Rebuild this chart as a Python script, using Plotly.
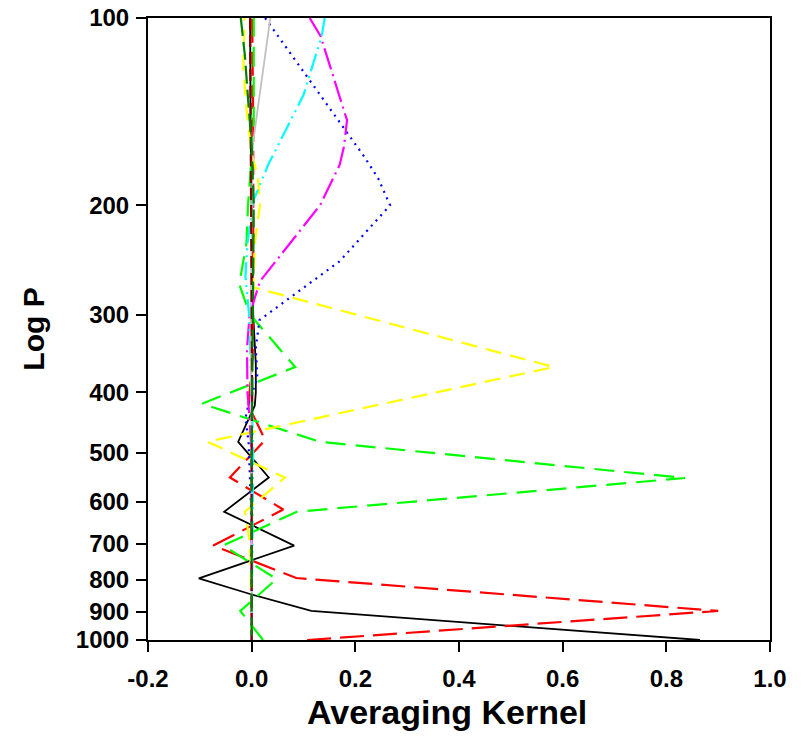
import plotly.graph_objects as go

# ---- data (pressure in hPa, averaging kernel values) ----
black_p = [1000, 898, 845, 796, 705, 622, 548, 480, 420, 400, 360, 300, 200, 150, 100]
black_v = [0.865, 0.115, 0.0, -0.102, 0.082, -0.053, 0.033, -0.026, 0.006, 0.008, 0.008, 0.003, 0.0, -0.002, -0.003]

red_p = [1000, 898, 795, 746, 705, 617, 548, 477, 420, 350, 250, 150, 100]
red_v = [0.107, 0.90, 0.086, 0.0, -0.074, 0.061, -0.042, 0.026, -0.006, 0.002, 0.003, 0.003, 0.001]

lime_p = [1000, 898, 798, 705, 622, 549, 480, 417, 364, 300, 268, 230, 200, 150, 100]
lime_v = [0.022, -0.022, 0.048, -0.055, 0.087, 0.836, 0.131, -0.096, 0.084, -0.003, -0.024, -0.010, -0.007, 0.004, 0.004]

yellow_p = [1000, 700, 622, 548, 480, 364, 271, 230, 200, 180, 165, 140, 120, 100]
yellow_v = [0.0, -0.003, -0.013, 0.064, -0.085, 0.583, 0.003, 0.006, 0.016, 0.012, 0.0, -0.010, -0.016, -0.014]

blue_p = [100, 167, 181, 200, 246, 306, 340, 380, 410, 440, 480, 550, 650, 1000]
blue_v = [0.026, 0.217, 0.244, 0.267, 0.170, 0.015, 0.008, 0.011, -0.004, -0.012, -0.006, -0.003, 0.0, 0.0]

magenta_p = [100, 107, 146, 161, 172, 200, 265, 300, 340, 400, 430, 500, 1000]
magenta_v = [0.112, 0.133, 0.184, 0.178, 0.170, 0.132, 0.016, -0.004, -0.009, -0.008, -0.005, 0.0, 0.0]

cyan_p = [100, 107, 133, 172, 197, 230, 260, 300, 400, 500, 1000]
cyan_v = [0.141, 0.135, 0.100, 0.032, 0.003, -0.008, -0.012, -0.005, 0.0, 0.003, 0.0]

gray_p = [100, 160, 300, 500, 1000]
gray_v = [0.036, 0.002, -0.002, 0.0, 0.0]

darkred_p = [100, 200, 300, 400, 500, 1000]
darkred_v = [-0.003, -0.002, 0.0, 0.001, 0.0, 0.0]

darkgreen_p = [100, 115, 135, 160, 200, 300, 500, 1000]
darkgreen_v = [-0.021, -0.013, -0.007, 0.0, 0.004, 0.002, 0.0, 0.0]

y_ticks = [100, 200, 300, 400, 500, 600, 700, 800, 900, 1000]
x_ticks = [-0.2, 0.0, 0.2, 0.4, 0.6, 0.8, 1.0]
x_ticktext = ["-0.2", "0.0", "0.2", "0.4", "0.6", "0.8", "1.0"]

series = [
    (black_p, black_v, "#000000", "solid", 1.8),
    (red_p, red_v, "#FF0000", "24px,9px", 2.2),
    (lime_p, lime_v, "#00FF00", "20px,10px", 2.2),
    (yellow_p, yellow_v, "#FFFF00", "16px,9px", 2.2),
    (blue_p, blue_v, "#0000FF", "2px,5px", 2.2),
    (magenta_p, magenta_v, "#FF00FF", "22px,5px,2px,5px", 2.2),
    (cyan_p, cyan_v, "#00FFFF", "18px,5px,2px,5px,2px,5px", 2.2),
    (gray_p, gray_v, "#C0C0C0", "solid", 1.8),
    (darkred_p, darkred_v, "#800000", "12px,5px", 2.2),
    (darkgreen_p, darkgreen_v, "#008000", "18px,6px", 2.2),
]

fig = go.Figure()
for p, v, c, d, w in series:
    fig.add_trace(go.Scatter(x=v, y=p, mode="lines",
                             line=dict(color=c, dash=d, width=w),
                             showlegend=False, hoverinfo="skip"))

font_family = "Liberation Sans, Arial, sans-serif"
fig.update_layout(
    width=802, height=736,
    margin=dict(l=148, r=32, t=18, b=96),
    paper_bgcolor="white", plot_bgcolor="white",
    font=dict(family=font_family, size=24, color="black", weight="bold"),
    showlegend=False,
)
fig.update_xaxes(
    range=[-0.2, 1.0], tickvals=x_ticks, ticktext=x_ticktext,
    automargin=False,
    showgrid=False, zeroline=False,
    showline=True, linecolor="black", linewidth=2, mirror=True,
    ticks="outside", ticklen=10, tickwidth=2, tickcolor="black",
    ticklabelstandoff=6,
    tickfont=dict(size=24, family=font_family, weight="bold"),
)
fig.add_annotation(
    text="Averaging Kernel", xref="paper", yref="paper",
    x=0.4807, y=-0.115, xanchor="center", yanchor="middle",
    showarrow=False,
    font=dict(size=34, family=font_family, weight="bold", color="black"),
)
fig.update_yaxes(
    type="log", range=[3, 2], tickvals=y_ticks,
    ticktext=[str(t) for t in y_ticks],
    automargin=False,
    showgrid=False, zeroline=False,
    showline=True, linecolor="black", linewidth=2, mirror=True,
    ticks="outside", ticklen=10, tickwidth=2, tickcolor="black",
    ticklabelstandoff=2,
    tickfont=dict(size=24, family=font_family, weight="bold"),
    title=dict(text="Log P", standoff=22,
               font=dict(size=30, family=font_family, weight="bold")),
)

fig.write_html("out.html")
